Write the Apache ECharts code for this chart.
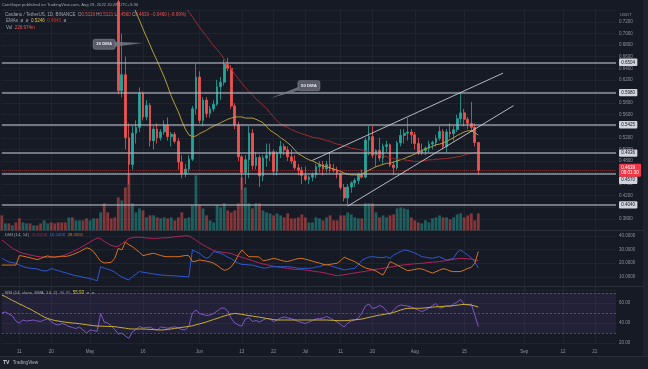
<!DOCTYPE html>
<html><head><meta charset="utf-8">
<script src="https://cdn.jsdelivr.net/npm/echarts@6/dist/echarts.min.js"></script>
<style>html,body{margin:0;padding:0;background:#161a25;}#c{width:648px;height:369px;}</style>
</head><body><div id="c"></div>
<script>
// ---------- DATA ----------
const firstDay = '2022-04-06';
const dayCount = 175;
const tickDates = ['2022-04-11','2022-04-20','2022-05-01','2022-05-16','2022-06-01','2022-06-13','2022-06-22','2022-07-01','2022-07-11','2022-07-20','2022-08-01','2022-08-15','2022-09-01','2022-09-12','2022-09-21'];
const tickText  = ['11','20','May','16','Jun','13','22','Jul','11','20','Aug','15','Sep','12','21'];

const openP = [1.12,1.06,1.08,1.02,1.04,1.02,0.93,0.96,0.98,0.94,
0.96,0.95,0.92,0.95,0.97,0.96,0.93,0.90,0.89,0.88,
0.90,0.83,0.86,0.86,0.81,0.765,0.79,0.80,0.78,0.86,
0.79,0.78,0.765,0.755,0.601,0.629,0.52,0.474,0.528,0.538,
0.597,0.556,0.576,0.515,0.535,0.52,0.53,0.542,0.522,0.526,
0.514,0.478,0.458,0.466,0.483,0.570,0.625,0.550,0.585,0.562,
0.570,0.578,0.608,0.616,0.647,0.640,0.575,0.542,0.487,0.460,
0.482,0.528,0.472,0.486,0.454,0.485,0.490,0.496,0.462,0.494,
0.505,0.499,0.487,0.480,0.468,0.464,0.455,0.448,0.452,0.456,
0.470,0.474,0.466,0.474,0.466,0.464,0.458,0.434,0.416,0.435,
0.442,0.446,0.456,0.452,0.516,0.522,0.490,0.498,0.485,0.505,
0.508,0.473,0.468,0.511,0.524,0.528,0.530,0.525,0.510,0.494,
0.498,0.502,0.509,0.512,0.519,0.531,0.505,0.530,0.527,0.534,
0.553,0.563,0.552,0.545,0.538,0.5119];
const highP = [1.13,1.10,1.10,1.05,1.06,1.03,0.98,1.00,0.99,0.97,
0.97,0.96,0.96,0.98,1.00,1.00,0.94,0.91,0.90,0.91,
0.92,0.87,0.89,0.87,0.82,0.80,0.82,0.81,0.87,0.87,
0.80,0.785,0.77,0.76,0.70,0.66,0.545,0.54,0.55,0.607,
0.60,0.585,0.58,0.54,0.545,0.535,0.55,0.555,0.53,0.53,
0.52,0.49,0.475,0.49,0.575,0.648,0.635,0.59,0.59,0.575,
0.585,0.62,0.625,0.655,0.658,0.645,0.58,0.548,0.49,0.49,
0.54,0.535,0.495,0.49,0.49,0.51,0.51,0.50,0.497,0.515,
0.51,0.505,0.50,0.49,0.475,0.47,0.47,0.455,0.46,0.475,
0.48,0.48,0.48,0.495,0.475,0.47,0.46,0.44,0.44,0.445,
0.45,0.46,0.465,0.52,0.54,0.54,0.50,0.52,0.51,0.515,
0.51,0.48,0.515,0.535,0.535,0.554,0.535,0.53,0.52,0.51,
0.505,0.515,0.515,0.525,0.54,0.535,0.535,0.545,0.54,0.56,
0.597,0.57,0.556,0.582,0.545,0.5121];
const lowP = [1.04,1.05,1.01,1.01,1.01,0.92,0.92,0.94,0.93,0.93,
0.94,0.91,0.88,0.94,0.95,0.92,0.89,0.88,0.87,0.84,
0.82,0.82,0.84,0.80,0.76,0.755,0.775,0.77,0.775,0.78,
0.76,0.752,0.746,0.595,0.59,0.50,0.44,0.465,0.51,0.53,
0.55,0.55,0.505,0.50,0.51,0.515,0.525,0.515,0.505,0.51,
0.465,0.45,0.452,0.46,0.48,0.56,0.545,0.54,0.555,0.555,
0.565,0.575,0.585,0.61,0.635,0.57,0.535,0.48,0.43,0.44,
0.45,0.465,0.465,0.435,0.445,0.47,0.48,0.455,0.455,0.485,
0.49,0.48,0.475,0.465,0.455,0.44,0.445,0.44,0.445,0.45,
0.46,0.455,0.46,0.46,0.46,0.45,0.43,0.41,0.405,0.425,
0.435,0.44,0.45,0.45,0.49,0.485,0.47,0.48,0.475,0.495,
0.47,0.455,0.465,0.505,0.51,0.515,0.51,0.50,0.49,0.49,
0.49,0.495,0.50,0.505,0.515,0.50,0.495,0.52,0.515,0.53,
0.545,0.54,0.535,0.53,0.505,0.4560];
const closeP = [1.06,1.08,1.02,1.04,1.02,0.93,0.96,0.98,0.94,0.96,
0.95,0.92,0.95,0.97,0.96,0.93,0.90,0.89,0.88,0.90,
0.83,0.86,0.86,0.81,0.765,0.79,0.80,0.78,0.86,0.79,
0.78,0.765,0.755,0.601,0.629,0.52,0.474,0.528,0.538,0.597,
0.556,0.576,0.515,0.535,0.52,0.53,0.542,0.522,0.526,0.514,
0.478,0.458,0.466,0.483,0.570,0.625,0.550,0.585,0.562,0.570,
0.578,0.608,0.616,0.647,0.640,0.575,0.542,0.487,0.460,0.482,
0.528,0.472,0.486,0.454,0.485,0.490,0.496,0.462,0.494,0.505,
0.499,0.487,0.480,0.468,0.464,0.455,0.448,0.452,0.456,0.470,
0.474,0.466,0.474,0.466,0.464,0.458,0.434,0.416,0.435,0.442,
0.446,0.456,0.452,0.516,0.522,0.490,0.498,0.485,0.505,0.508,
0.473,0.468,0.511,0.524,0.528,0.530,0.525,0.510,0.494,0.498,
0.502,0.509,0.512,0.519,0.531,0.505,0.530,0.527,0.534,0.553,
0.563,0.552,0.545,0.538,0.5119,0.4639];
const volumeM = [203,95,95,68,108,162,108,95,95,68,
68,95,135,95,108,95,108,108,108,176,
176,135,135,135,162,135,162,162,243,365,
243,162,176,446,405,581,770,365,243,297,
270,176,203,203,176,162,176,162,176,135,
176,243,162,176,338,743,338,297,203,135,
108,338,311,365,270,243,270,365,716,581,
365,297,365,365,270,243,230,203,230,203,
176,230,162,162,176,216,176,108,108,176,
162,135,176,203,135,135,203,203,243,216,
176,162,162,365,365,365,243,176,203,176,
203,216,297,311,297,284,176,135,108,95,
135,108,162,176,203,176,176,149,176,216,
230,176,203,230,135,228.974];
const ema20 = [1.06,1.058,1.055,1.051,1.047,1.040,1.034,1.029,1.023,1.018,
1.013,1.007,1.001,0.996,0.991,0.985,0.978,0.971,0.964,0.958,
0.950,0.943,0.937,0.930,0.921,0.912,0.905,0.897,0.894,0.889,
0.883,0.876,0.868,0.848,0.828,0.800,0.767,0.753,0.737,0.723,
0.708,0.694,0.680,0.666,0.653,0.639,0.625,0.609,0.592,0.578,
0.565,0.549,0.535,0.525,0.522,0.523,0.527,0.530,0.533,0.537,
0.540,0.543,0.546,0.549,0.552,0.554,0.556,0.556,0.556,0.554,
0.554,0.554,0.552,0.549,0.546,0.539,0.533,0.529,0.525,0.520,
0.516,0.511,0.506,0.499,0.492,0.489,0.485,0.482,0.480,0.477,
0.474,0.471,0.470,0.468,0.466,0.464,0.462,0.459,0.457,0.456,
0.456,0.456,0.457,0.461,0.464,0.467,0.470,0.472,0.474,0.476,
0.476,0.478,0.480,0.482,0.484,0.487,0.489,0.492,0.495,0.498,
0.501,0.503,0.505,0.508,0.509,0.511,0.514,0.517,0.520,0.524,
0.527,0.530,0.532,0.532,0.529,0.5246];
const ema50 = [1.070,1.070,1.068,1.067,1.065,1.060,1.056,1.053,1.049,1.046,
1.042,1.037,1.034,1.031,1.028,1.024,1.019,1.014,1.009,1.004,
0.997,0.991,0.986,0.979,0.971,0.964,0.958,0.951,0.948,0.941,
0.935,0.928,0.921,0.908,0.896,0.881,0.865,0.858,0.851,0.844,
0.836,0.829,0.821,0.814,0.807,0.799,0.792,0.785,0.777,0.770,
0.762,0.755,0.746,0.737,0.729,0.720,0.711,0.703,0.695,0.687,
0.679,0.672,0.665,0.656,0.648,0.639,0.630,0.622,0.614,0.607,
0.600,0.594,0.587,0.582,0.576,0.571,0.563,0.556,0.549,0.544,
0.540,0.538,0.534,0.532,0.529,0.527,0.525,0.523,0.521,0.520,
0.519,0.517,0.515,0.514,0.511,0.509,0.508,0.506,0.504,0.502,
0.501,0.500,0.499,0.497,0.495,0.494,0.492,0.490,0.489,0.487,
0.486,0.484,0.483,0.483,0.482,0.481,0.480,0.479,0.479,0.480,
0.481,0.482,0.482,0.483,0.483,0.484,0.484,0.485,0.486,0.487,
0.488,0.490,0.492,0.493,0.494,0.4945];
const adx = [37,35,33,31,29.5,28.3,27.3,26.7,26.1,25.5,
25,24.7,24.5,24.4,24.5,24.6,24.7,25,26.2,27.3,
28.5,29.6,31,32.5,34,35.5,37,38.5,38,36,
34.5,33,32.3,32.5,34.2,36,38,38.8,39.1,39,
38.8,38.5,38.3,38.2,38.3,38.5,38.6,38.7,39,39.3,
39.6,39.9,40.1,40,38.5,36.8,35,33.4,32,30.7,
29.3,28.6,28.2,27.9,27.5,27.1,26.1,25.2,24.4,23.6,
22.8,21.9,21,20.2,19.5,19,18.4,17.8,17.3,17,
16.6,16.2,15.8,15.6,15.4,15.3,15.1,14.7,14.3,13.9,
13.6,13.2,12.6,11.9,11.4,10.9,11.2,11.6,12.1,12.5,
12.9,13.3,13.7,14.1,14.6,15.1,15.5,15.9,16.3,16.7,
17.2,17.6,18.1,18.5,18.8,19.1,19.4,19.6,19.8,20,
20.3,20.5,20.8,21,21.3,21.6,21.9,22.4,22.9,23.3,
23.6,23.5,23.3,23,22.5,21.8158];
const plusDI = [23.6,22.2,21,20.5,20,18.7,17.5,16.9,16.4,16.1,
15.9,15,14.3,14.6,16.1,15.3,14.6,13.8,13.1,12.3,
11.5,10.9,10.4,9.8,9.3,8.7,8.1,7.2,17.5,16.5,
15.6,14.8,13.5,11.6,10,8.7,7.8,10.2,12,13.9,
13.4,13,12.6,12.2,11.8,11.4,11.2,11,10.9,10.8,
10.6,10.4,10.2,10.2,29.7,28.5,27.3,25,23.6,25,
28.5,28,27.3,26,24.5,23.3,21.5,20,19.2,19,
18.8,18.7,18,17.2,16.5,16.6,17.2,17.5,17.5,17.5,
17.5,17.5,17.2,16.8,16.4,16.3,16.3,16.3,16.5,17.3,
17.5,18.5,19.2,18.3,17.5,16.6,15.9,15.1,15.5,16,
16.3,19,22,23.6,24.5,24.8,24.5,24.2,24.1,24.8,
23.6,26,27.3,28.5,29.7,29.2,28.5,27.5,26.3,24.8,
24.4,24,23.6,24.3,24.8,23.5,22.4,23,23.6,28,
29.7,27.8,26,24,21,16.5458];
const minusDI = [18.7,18.7,18.7,18.7,18.7,25.6,25.2,24.6,24,23.4,
22.6,23.5,24.6,25.4,24.6,24.5,24.9,25.2,25,25.4,
26.3,27.3,28.5,29.8,31.3,30.5,28.5,25,21.5,20.2,
20.4,20.7,23.6,30.9,29.7,35.5,33.5,32.2,30,28,
25.6,26.2,26.8,27.3,26.5,25.7,25,24.8,24.8,24.8,
24.8,25.2,25.7,25.5,21.2,21.5,22.4,22,21.5,21,
20,18.5,16.5,14.8,15.5,17.5,21,26,29.7,27,
24.8,24.8,24.8,24.5,21.8,22.2,22.9,23.6,23,22.2,
21.5,21.3,22,22.8,23.4,23.6,23,22.3,21.5,20.8,
20.1,19.3,18.8,19.2,19.6,20,22,24.4,23.3,22.2,
21.2,19.6,18,16.6,15.9,15.4,14.3,12.8,11.4,16,
21.2,20,18.7,17.2,15.8,14.6,15,15.5,16,15.8,
14.8,13.8,12.8,13.8,15,16,15.5,14.3,13.9,13.9,
14,15,16.3,17,20,28.5555];
const rsi = [50,51,49,47,42,40,43,42,42.5,43,
42,41.5,43,44,41.5,39,38,39.5,38.5,36.5,
35.5,34.5,36,33,30,33,32.5,31.5,49.5,41,
40,37,33.5,29,30,27,24.7,31,33.5,36.5,
35,35.5,36,34,33,36,35.5,34.7,35.5,36.3,
35,33.5,33,37,50,53,49.5,48.5,47.5,48,
49.5,52,54.7,55,52,44.5,40,38,37,44,
45.5,41.5,42.5,41,43,44.5,44,41.5,43,45,
46,45,44.5,43,41.5,40.5,39.5,41,42.5,44,
44.5,45,46.5,45,43,41,38.5,36,40,42,
43,45,50,57,59,54.5,55.5,57.5,56,52,
48.5,53,56.5,58,57.5,57,56,54.5,53,51.5,
53,55,57.5,59.5,55,55.5,57.5,56.5,59,61,
63.5,58.5,58,59,48,36.35];
const rsiMA = [68,66.5,64.5,62.5,61,59,57.5,55.5,54,52,
50,48,46,44.5,43.5,42.5,42,41.3,40.8,40.4,
40,39.7,39.3,38.8,38.3,37.8,37.3,37,36.9,36.7,
36.6,36.4,36.3,35.8,35.3,34.8,34.2,34,34,34,
34,33.8,33.6,33.4,33.2,33,33.2,33.6,34.1,34.6,
35.1,35.6,36.1,36.6,37.2,38.2,39.2,40.1,41.1,42.3,
43.5,44.6,45.8,47,48,49,49.6,49.2,48.6,48,
47.4,46.9,46.3,45.8,45.2,44.6,44,43.4,43,43,
43,43,43,43,43,43,43,43,43,43,
43,43,43,42.8,42.6,42.4,42.3,42.3,42.5,42.9,
43.2,43.5,44,44.8,45.6,46.4,47.2,47.9,48.5,49.1,
49.7,50.6,51.8,53,54,54.7,54.7,54.7,54.7,54.8,
55.1,55.5,55.9,56.2,56.4,56.6,56.8,57,57.4,57.8,
58.3,58.6,58.5,57.8,57,55.93];
const levels = [0.6504, 0.5980, 0.5425, 0.4936, 0.4570, 0.4040];
const lastPrice = 0.4639;
const channelUpper = [['2022-07-03', 0.4810], ['2022-08-26', 0.6317]];
const channelLower = [['2022-07-13', 0.4020], ['2022-08-29', 0.5756]];
const callouts = [
  {text: '20 DMA', box: ['2022-05-05', 0.6815], tip: ['2022-05-16', 0.6837], side: 'right'},
  {text: '50 DMA', box: ['2022-07-02', 0.6100], tip: ['2022-06-21', 0.5882], side: 'left'}
];

// ---------- BUILD ----------
const categories = [];
const t0 = Date.parse(firstDay + 'T00:00:00Z');
for (let i = 0; i < dayCount; i++) categories.push(new Date(t0 + i * 86400000).toISOString().slice(0, 10));
const tickMap = {};
tickDates.forEach((d, k) => tickMap[d] = tickText[k]);

const FONT = 'Liberation Sans, Arial, sans-serif';
const UP = '#26a69a', DOWN = '#ef5350';
const GRIDC = 'rgba(42,46,57,0.55)';
const LBL = '#8f929b';

const chart = echarts.init(document.getElementById('c'), null, {renderer: 'canvas', width: 648, height: 369});

function xAx(gi, labels) {
  return {
    type: 'category', gridIndex: gi, data: categories, boundaryGap: false,
    axisLine: {show: false}, axisTick: {show: false},
    axisLabel: labels ? {show: true, interval: (i, v) => tickMap[v] !== undefined, formatter: v => tickMap[v] || '',
      color: LBL, fontSize: 4.6, fontFamily: FONT, margin: 6} : {show: false},
    splitLine: {show: true, interval: (i, v) => tickMap[v] !== undefined, lineStyle: {color: GRIDC, width: 1}}
  };
}
function yLbl(dec, showMin) {
  return {show: true, color: LBL, fontSize: 4.5, fontFamily: FONT, margin: 3,
    formatter: v => v.toFixed(dec), showMinLabel: showMin, showMaxLabel: false};
}

const levelLabel = (v, extra) => Object.assign({show: true, position: 'end', distance: 3, formatter: v.toFixed(4),
  backgroundColor: '#d1d4dc', color: '#131722', fontSize: 4.5, fontFamily: FONT, padding: [1.3, 2.3, 1, 2.3], borderRadius: 1}, extra || {});

const option = {
  animation: false,
  backgroundColor: '#161a25',
  grid: [
    {left: 1.8, width: 614.2, top: 10.4, height: 220},
    {left: 1.8, width: 614.2, top: 230.5, height: 60.1},
    {left: 1.8, width: 614.2, top: 286.5, height: 56.5}
  ],
  xAxis: [xAx(0, false), xAx(1, false), xAx(2, true)],
  yAxis: [
    {type: 'value', gridIndex: 0, position: 'right', min: 0.36, max: 0.74, interval: 0.02,
      axisLine: {show: false}, axisTick: {show: false}, axisLabel: yLbl(4, false),
      splitLine: {show: true, lineStyle: {color: GRIDC}}},
    {type: 'value', gridIndex: 0, min: 0, max: 2970, show: false, splitLine: {show: false}},
    {type: 'value', gridIndex: 1, position: 'right', min: 0, max: 43.96, interval: 10,
      axisLine: {show: false}, axisTick: {show: false}, axisLabel: yLbl(4, false),
      splitLine: {show: true, lineStyle: {color: GRIDC}}},
    {type: 'value', gridIndex: 2, position: 'right', min: 20, max: 76.5, interval: 20,
      axisLine: {show: false}, axisTick: {show: false}, axisLabel: yLbl(2, true),
      splitLine: {show: true, lineStyle: {color: GRIDC}}}
  ],
  series: [
    {type: 'bar', xAxisIndex: 0, yAxisIndex: 1, barWidth: 2.8, silent: true, z: 1,
      data: volumeM.map((v, i) => ({value: v, itemStyle: {color: closeP[i] >= openP[i] ? 'rgba(38,166,154,0.5)' : 'rgba(239,83,80,0.5)'}}))},
    {type: 'candlestick', xAxisIndex: 0, yAxisIndex: 0, barWidth: 2.2, clip: true, silent: true, z: 3,
      data: openP.map((o, i) => [o, closeP[i], lowP[i], highP[i]]),
      itemStyle: {color: UP, color0: DOWN, borderColor: UP, borderColor0: DOWN, borderWidth: 0.8},
      markLine: {symbol: ['none', 'none'], silent: true, animation: false, precision: 4,
        data: levels.map(v => ({yAxis: v, lineStyle: {color: 'rgba(178,181,190,0.8)', width: 1.6, type: 'solid'},
          label: levelLabel(v, v === 0.4570 ? {offset: [0, 6]} : {})})).concat([
          {yAxis: lastPrice, lineStyle: {color: 'rgba(239,83,80,0.55)', width: 1, type: 'dotted'},
            label: levelLabel(lastPrice, {backgroundColor: '#f23645', color: '#ffffff', formatter: lastPrice.toFixed(4) + '\n09:01:30', lineHeight: 5.4, padding: [1.2, 2.3, 1, 2.3]})}
        ])}},
    {type: 'line', xAxisIndex: 0, yAxisIndex: 0, data: ema20, showSymbol: false, silent: true, z: 4,
      lineStyle: {color: '#b39d3a', width: 1}},
    {type: 'line', xAxisIndex: 0, yAxisIndex: 0, data: ema50, showSymbol: false, silent: true, z: 4,
      lineStyle: {color: '#9b2c30', width: 1}},
    {type: 'line', xAxisIndex: 0, yAxisIndex: 0, data: channelUpper, showSymbol: false, silent: true, z: 5,
      lineStyle: {color: 'rgba(209,212,220,0.85)', width: 1}},
    {type: 'line', xAxisIndex: 0, yAxisIndex: 0, data: channelLower, showSymbol: false, silent: true, z: 5,
      lineStyle: {color: 'rgba(209,212,220,0.85)', width: 1}},
    {type: 'line', xAxisIndex: 1, yAxisIndex: 2, data: adx, showSymbol: false, silent: true,
      lineStyle: {color: '#b0245e', width: 1}},
    {type: 'line', xAxisIndex: 1, yAxisIndex: 2, data: plusDI, showSymbol: false, silent: true,
      lineStyle: {color: '#2e58d6', width: 1}},
    {type: 'line', xAxisIndex: 1, yAxisIndex: 2, data: minusDI, showSymbol: false, silent: true,
      lineStyle: {color: '#d9731c', width: 1}},
    {type: 'line', xAxisIndex: 2, yAxisIndex: 3, data: rsi, showSymbol: false, silent: true, z: 4,
      lineStyle: {color: '#7e57c2', width: 1},
      markArea: {silent: true, itemStyle: {color: 'rgba(126,87,194,0.12)'}, data: [[{yAxis: 30}, {yAxis: 70}]]},
      markLine: {silent: true, symbol: ['none', 'none'], label: {show: false},
        lineStyle: {color: 'rgba(120,123,134,0.75)', width: 0.8, type: [2, 2]},
        data: [{yAxis: 70}, {yAxis: 50}, {yAxis: 30}]}},
    {type: 'line', xAxisIndex: 2, yAxisIndex: 3, data: rsiMA, showSymbol: false, silent: true, z: 5,
      lineStyle: {color: '#c9b035', width: 1}}
  ]
};
chart.setOption(option);

// ---------- annotations / texts ----------
const px = (d, v) => chart.convertToPixel({gridIndex: 0}, [d, v]);
const G = [];
G.push({type: 'line', shape: {x1: 0, y1: 230.5, x2: 643, y2: 230.5}, style: {stroke: '#2a2e39', lineWidth: 1}, silent: true});
G.push({type: 'line', shape: {x1: 0, y1: 286.5, x2: 643, y2: 286.5}, style: {stroke: '#2a2e39', lineWidth: 1}, silent: true});
G.push({type: 'rect', shape: {x: 0, y: 356, width: 648, height: 13}, style: {fill: '#1b1f2a'}, silent: true});
G.push({type: 'line', shape: {x1: 0, y1: 356.5, x2: 648, y2: 356.5}, style: {stroke: '#2a2e39', lineWidth: 1}, silent: true});
G.push({type: 'rect', shape: {x: 643, y: 0, width: 5, height: 356}, style: {fill: '#1f232e'}, silent: true});

callouts.forEach(c => {
  const b = px(c.box[0], c.box[1]);
  const t = px(c.tip[0], c.tip[1]);
  const w = 22, h = 10;
  let pts;
  if (c.side === 'right') pts = [[b[0] + w / 2 - 1, b[1] - 2.5], [t[0], t[1]], [b[0] + w / 2 - 1, b[1] + 2.5]];
  else pts = [[b[0] - w / 2 + 1, b[1] + 1], [t[0], t[1]], [b[0] - w / 2 + 1, b[1] + 4.5]];
  G.push({type: 'polygon', shape: {points: pts}, style: {fill: 'rgba(120,123,134,0.85)'}, z: 100, silent: true});
  G.push({type: 'rect', shape: {x: b[0] - w / 2, y: b[1] - h / 2, width: w, height: h, r: 2},
    style: {fill: 'rgba(93,96,107,0.95)', stroke: 'rgba(150,153,162,0.8)', lineWidth: 0.6}, z: 101, silent: true});
  G.push({type: 'text', x: b[0], y: b[1], z: 102, silent: true,
    style: {text: c.text, fill: '#e6e8ee', fontSize: 4.3, fontFamily: FONT, fontWeight: 'bold', align: 'center', verticalAlign: 'middle'}});
});

const rich = {
  g: {fill: '#a3a6af', fontSize: 4.5, fontFamily: FONT},
  r: {fill: '#ef5350', fontSize: 4.5, fontFamily: FONT},
  y: {fill: '#d6c04a', fontSize: 4.5, fontFamily: FONT},
  d: {fill: '#c0392b', fontSize: 4.5, fontFamily: FONT},
  p: {fill: '#c2185b', fontSize: 4.3, fontFamily: FONT},
  b: {fill: '#3d6ae0', fontSize: 4.3, fontFamily: FONT},
  o: {fill: '#e07a20', fontSize: 4.3, fontFamily: FONT},
  v: {fill: '#9575cd', fontSize: 4.3, fontFamily: FONT},
  s: {fill: '#a3a6af', fontSize: 4.3, fontFamily: FONT}
};
function txt(x, y, text, extra) {
  G.push(Object.assign({type: 'text', x: x, y: y, z: 110, silent: true,
    style: {text: text, rich: rich, fill: '#a3a6af', fontSize: 4.5, fontFamily: FONT, align: 'left', verticalAlign: 'middle'}}, extra || {}));
}
txt(2, 5, 'CoinGape published on TradingView.com, Aug 19, 2022 20:28 UTC+5:30', {style: {text: 'CoinGape published on TradingView.com, Aug 19, 2022 20:28 UTC+5:30', fill: '#a3a6af', fontSize: 4.2, fontFamily: FONT, align: 'left', verticalAlign: 'middle'}});
txt(5, 14.7, '{g|Cardano / TetherUS, 1D, BINANCE}  {g|O}{r|0.5119} {g|H}{r|0.5121} {g|L}{r|0.4560} {g|C}{r|0.4639} {r|\u22120.0460 (\u22128.99%)}');
txt(6, 20.8, '{g|EMAs}  {g|\u00f8}  {g|\u00f8}  {y|0.5246}  {d|0.4945}  {g|\u00f8}');
txt(6, 27.7, '{g|Vol}  {r|228.974m}');
txt(5, 235, '{s|DMI (14, 14)}  {p|21.8158}  {b|16.5458}  {o|28.5555}');
txt(5, 293, '{s|RSI (14, close, SMA, 14, 2)}  {v|36.35}  {y|55.93}  {s|\u00f8  \u00f8}');
txt(620, 15, 'USDT', {style: {text: 'USDT', fill: LBL, fontSize: 4.3, fontFamily: FONT, align: 'left', verticalAlign: 'middle'}});
txt(3, 362.5, '{l|TV} {t|TradingView}', {style: {text: '{l|TV} {t|TradingView}', rich: {
  l: {fill: '#d1d4dc', fontSize: 5, fontWeight: 'bold', fontFamily: FONT},
  t: {fill: '#b2b5be', fontSize: 4.6, fontFamily: FONT}}, align: 'left', verticalAlign: 'middle'}});

chart.setOption({graphic: G});
</script>
</body></html>
